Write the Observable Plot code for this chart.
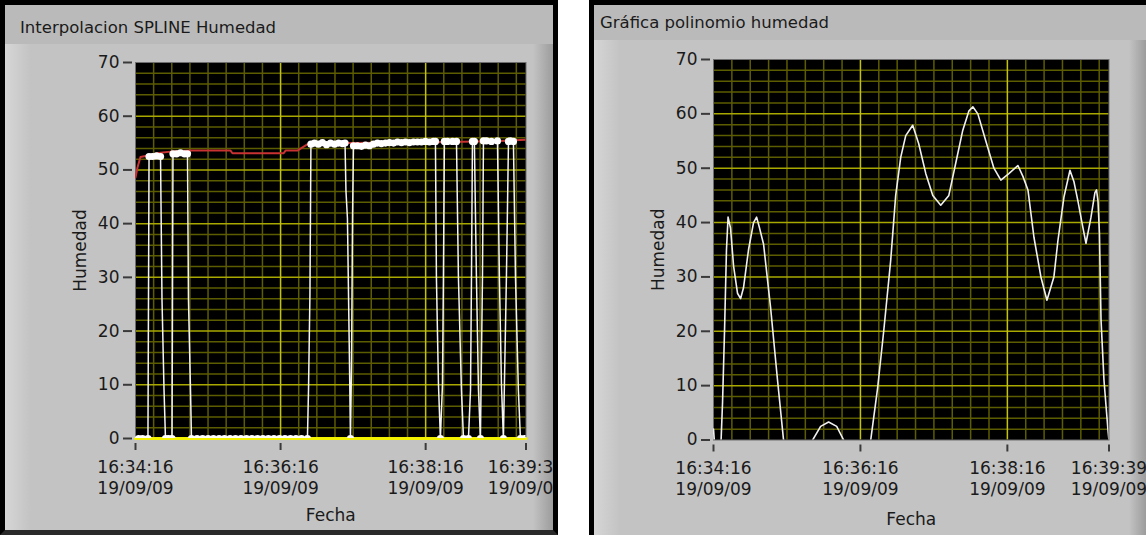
<!DOCTYPE html>
<html><head><meta charset="utf-8">
<script src="https://cdn.jsdelivr.net/npm/d3@7"></script>
<script src="https://cdn.jsdelivr.net/npm/@observablehq/plot@0.6"></script>
<style>
body{margin:0;background:#fff;width:1146px;height:535px;overflow:hidden;position:relative;font-family:"DejaVu Sans",sans-serif;}
.abs{position:absolute;box-sizing:border-box;}
.title{position:absolute;font-size:16.5px;color:#1a1a1a;white-space:nowrap;}
</style>
</head><body>
<div class="abs" style="left:0;top:0;width:558px;height:535px;background:#bababa"></div>
<div class="abs" style="left:5px;top:44px;width:548px;height:486px;background:linear-gradient(to right,#d6d6d6 0px,#c3c3c3 26px,#c3c3c3 528px,#9c9c9c 548px)"></div>
<div class="abs" style="left:589px;top:0;width:557px;height:535px;background:#bababa"></div>
<div class="abs" style="left:594px;top:40px;width:552px;height:495px;background:linear-gradient(to right,#d6d6d6 0px,#c3c3c3 26px,#c3c3c3 535px,#9c9c9c 552px)"></div>
<div id="c1" class="abs" style="left:5px;top:5px;width:548px;height:525px;overflow:hidden"></div>
<div id="c2" class="abs" style="left:594px;top:5px;width:552px;height:530px;overflow:hidden"></div>
<div class="abs" style="left:0;top:0;width:558px;height:535px;border:5px solid #000;border-bottom:5px solid #2a2a2a"></div>
<div class="abs" style="left:589px;top:0;width:557px;height:535px;border-left:5px solid #000;border-top:5px solid #000"></div>
<div class="title" style="left:20px;top:18px">Interpolacion SPLINE Humedad</div>
<div class="title" style="left:600px;top:13px">Gráfica polinomio humedad</div>
<script>
// time in seconds after 16:34:16 on 19/09/09
const xTicks = [0, 120, 240, 323];
const xTickLabels = ["16:34:16\n19/09/09", "16:36:16\n19/09/09", "16:38:16\n19/09/09", "16:39:39\n19/09/09"];
const yTicks = [0, 10, 20, 30, 40, 50, 60, 70];
const gridMajorX = [120, 240];
const gridMinorX = [15,30,45,60,75,90,105,135,150,165,180,195,210,225,255,270,285,300,315];
const gridMajorY = [10,20,30,40,50,60];
const gridMinorY = [2,4,6,8,12,14,16,18,22,24,26,28,32,34,36,38,42,44,46,48,52,54,56,58,62,64,66,68];

// left: spline interpolation (red)
const splineCurve = [[0,48.6],[1.7,50.5],[4.1,52.4],[8.3,52.6],[20.7,53.2],[33.1,53.5],[45.5,53.6],[78.6,53.6],[80.2,53.1],[122.4,53.1],[124.1,53.6],[134.0,53.6],[138.1,54.2],[143.1,54.9],[148.9,55],[177.8,55],[219.2,55.1],[260.5,55.2],[301.9,55.4],[323,55.6]];
// left: raw humidity readings (white)
const rawReadings = [[2.5,0],[5.8,0],[10.3,0],[11.2,52.5],[14.1,52.5],[17.4,52.6],[20.7,52.5],[21.9,26],[23.6,9],[24.8,0],[27.3,0],[30.2,0],[31.0,53],[33.9,53],[37.2,53.2],[40.5,53],[43.0,53],[43.8,26],[45.5,9],[46.3,0],[50.9,0],[55.5,0],[60.0,0],[64.5,0],[69.1,0],[73.6,0],[78.2,0],[82.7,0],[87.2,0],[91.8,0],[96.3,0],[100.9,0],[105.4,0],[109.9,0],[114.5,0],[119.1,0],[123.6,0],[128.2,0],[132.7,0],[137.3,0],[142.2,0],[143.1,9],[144.3,27],[145.1,54.8],[148.0,55],[151.3,54.8],[154.6,55.1],[158.0,54.7],[161.3,55],[164.6,54.8],[167.9,55],[171.2,54.9],[173.3,55],[174.1,46],[175.3,41],[177.0,14],[177.8,0],[178.7,14],[179.5,41],[180.3,54.5],[183.6,54.5],[186.9,54.4],[190.2,54.6],[193.5,54.5],[196.8,54.8],[200.1,55],[203.4,54.9],[206.8,55],[210.1,55.1],[213.4,55],[216.7,55.2],[220.0,55.1],[223.3,55.2],[226.6,55.1],[229.9,55.2],[233.2,55.2],[236.5,55.2],[239.8,55.3],[243.1,55.2],[246.4,55.3],[248.1,55.3],[248.9,30],[250.6,10],[252.2,0],[253.9,10],[254.7,30],[255.5,55.3],[258.0,55.3],[262.2,55.3],[265.5,55.3],[267.1,30],[269.6,9],[271.3,0],[275.4,0],[277.1,9],[277.9,30],[278.7,55.3],[280.3,55.3],[282.0,30],[283.7,9],[285.3,0],[287.0,30],[287.8,55.4],[290.3,55.4],[294.4,55.3],[299.4,55.4],[301.0,30],[302.7,10],[304.3,0],[306.8,30],[308.5,55.3],[310.1,55.4],[312.6,55.3],[314.3,30],[316.7,9],[318.4,0],[321.7,0]];
const zeroLine = [[0,0],[323,0]];

// right: polynomial fit (white)
const polyCurve = [[0,2],[1.6,-3],[4.9,-3],[6.2,0],[7.4,7],[9.0,20],[10.6,35],[11.9,41],[13.9,39],[16.4,32],[19.6,27],[22.1,26],[24.5,28],[28.6,35],[32.7,40],[35.2,41],[37.6,39],[40.9,36],[46.6,24.4],[52.3,11],[57.2,0],[63.0,-8],[71.1,-10],[76.0,-6],[81.0,0],[87.5,2.5],[94.0,3.3],[100.6,2.5],[106.3,0],[112.1,-8],[120.2,-8],[128.4,0],[134.1,9.7],[139.0,20],[144.7,33],[148.8,45],[152.9,52],[157.0,56],[162.7,57.9],[167.6,54.5],[173.4,49],[179.1,45],[185.6,43.2],[192.2,45],[197.9,51],[203.6,57],[208.5,60.5],[211.8,61.3],[215.9,60],[222.4,55],[229.0,50],[234.7,47.8],[241.2,49],[248.6,50.5],[252.7,48.5],[256.8,46],[261.7,37.3],[267.4,30],[272.3,25.7],[278.0,30],[281.3,36.7],[286.2,44.7],[291.1,49.6],[294.4,47.5],[297.6,44],[300.9,40],[304.2,36.2],[308.3,41],[311.5,45.5],[312.8,46],[314.0,44],[315.2,38],[316.5,22],[318.9,11],[322.2,1.7],[323.8,-2]];

const labelMap = new Map(xTicks.map((t, i) => [t, xTickLabels[i]]));

function chart({width, height, ml, mr, mt, mb, ylabOff, xlabOff, series}) {
  return Plot.plot({
    width, height,
    marginLeft: ml, marginRight: mr, marginTop: mt, marginBottom: mb,
    style: {background: "transparent", fontFamily: "DejaVu Sans, sans-serif", fontSize: "17px", color: "#1a1a1a", overflow: "visible"},
    x: {domain: [0, 323]},
    y: {domain: [0, 70]},
    marks: [
      Plot.frame({fill: "#000"}),
      Plot.ruleX(gridMinorX, {stroke: "#5c5c00", strokeWidth: 1.5}),
      Plot.ruleY(gridMinorY, {stroke: "#5c5c00", strokeWidth: 1.5}),
      Plot.ruleY(gridMajorY, {stroke: "#a8a800", strokeWidth: 1.5}),
      Plot.ruleX(gridMajorX, {stroke: "#c4c400", strokeWidth: 1.5}),
      Plot.frame({stroke: "#6e6e6e", strokeWidth: 1}),
      ...series,
      Plot.axisY({ticks: yTicks, tickSize: 9, tickPadding: 4, dx: -3, strokeWidth: 2, stroke: "#3a3a3a",
        label: "Humedad", labelAnchor: "center", labelArrow: "none", labelOffset: ylabOff}),
      Plot.axisX({ticks: xTicks, tickFormat: d => labelMap.get(d), tickSize: 7, tickPadding: 7, dy: 5,
        strokeWidth: 2, stroke: "#3a3a3a", lineHeight: 1.25,
        label: "Fecha", labelAnchor: "center", labelArrow: "none", labelOffset: xlabOff})
    ]
  });
}

const dotsFilter = d => d[1] === 0 || d[1] > 50;

document.getElementById("c1").append(chart({
  width: 548, height: 525, ml: 130, mr: 27.5, mt: 57, mb: 92, ylabOff: 62, xlabOff: 82,
  series: [
    Plot.line(zeroLine, {x: d => d[0], y: d => d[1], stroke: "#f2f200", strokeWidth: 3}),
    Plot.line(splineCurve, {x: d => d[0], y: d => d[1], stroke: "#c83232", strokeWidth: 2, clip: true}),
    Plot.line(rawReadings, {x: d => d[0], y: d => d[1], stroke: "#f4f4f4", strokeWidth: 1.5, clip: true}),
    Plot.dot(rawReadings.filter(dotsFilter), {x: d => d[0], y: d => d[1], r: 3.6, fill: "#ffffff", stroke: "none", clip: true})
  ]
}));

document.getElementById("c2").append(chart({
  width: 552, height: 530, ml: 119, mr: 37.5, mt: 54, mb: 95.5, ylabOff: 62, xlabOff: 85,
  series: [
    Plot.line(polyCurve, {x: d => d[0], y: d => d[1], stroke: "#f0f0f0", strokeWidth: 1.6, clip: true})
  ]
}));
</script>
</body></html>
